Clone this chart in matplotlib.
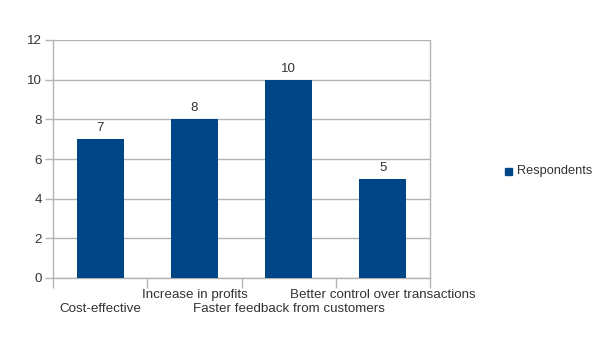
import matplotlib
matplotlib.use("Agg")
import matplotlib.pyplot as plt
from matplotlib.patches import Rectangle

categories = ["Cost-effective", "Increase in profits",
              "Faster feedback from customers", "Better control over transactions"]
respondents = [7, 8, 10, 5]
yticks = [0, 2, 4, 6, 8, 10, 12]

BAR = "#004586"
GRID = "#b3b3b3"
TXT = "#333333"
FS = 9.6

plt.rcParams["font.family"] = ["Liberation Sans", "DejaVu Sans"]

DPI = 100
fig = plt.figure(figsize=(6.05, 3.41), dpi=DPI)
ax = fig.add_axes([53 / 605, 1 - 278 / 341, (430 - 53) / 605, (278 - 40) / 341])

x = list(range(len(categories)))
ax.bar(x, respondents, width=0.5, color=BAR, zorder=3)
ax.set_xlim(-0.5, len(categories) - 0.5)
ax.set_ylim(0, 12)

ax.set_yticks(yticks)
ax.set_yticklabels([str(v) for v in yticks])
ax.yaxis.grid(True, color=GRID, linewidth=1)
ax.set_axisbelow(True)

# category boundary ticks
ax.set_xticks([i - 0.5 for i in range(len(categories) + 1)])
ax.set_xticklabels([])
ax.tick_params(axis="x", length=7, color=GRID, width=1)
ax.tick_params(axis="y", length=6, color=GRID, width=1, labelsize=FS, labelcolor=TXT, pad=2)

for s in ["left", "right", "bottom"]:
    ax.spines[s].set_color(GRID)
    ax.spines[s].set_linewidth(1)
ax.spines["top"].set_visible(False)

px = 72 / DPI
# staggered category labels
for i, name in enumerate(categories):
    off = -31 if i % 2 == 0 else -17
    ax.annotate(name, xy=(i, 0), xycoords=("data", "axes fraction"),
                xytext=(0, off * px), textcoords="offset points",
                ha="center", va="center", fontsize=FS, color=TXT)

# value labels
for i, v in enumerate(respondents):
    ax.annotate(str(v), xy=(i, v), xytext=(0, 11 * px), textcoords="offset points",
                ha="center", va="center", fontsize=FS, color=TXT)

# legend
fig.patches.append(Rectangle((505 / 605, 1 - 175 / 341), 7 / 605, 7 / 341,
                             transform=fig.transFigure, color=BAR))
fig.text(517 / 605, 1 - 171 / 341, "Respondents", ha="left", va="center",
         fontsize=9.2, color=TXT)

fig.savefig("out.png", dpi=DPI)
